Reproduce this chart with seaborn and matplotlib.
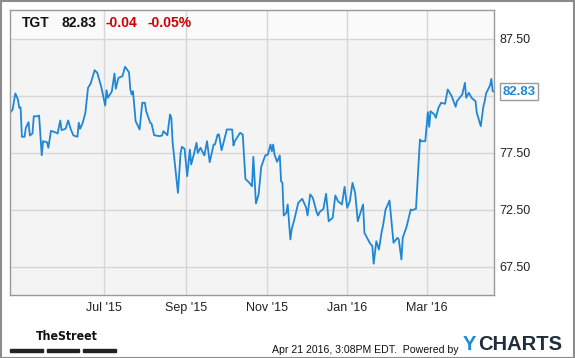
import pandas as pd
import matplotlib
matplotlib.use('Agg')
import matplotlib.pyplot as plt
import seaborn as sns
from matplotlib.patches import Rectangle

# TGT daily close (days counted from 2015-04-21)
day = [
    0, 2, 4, 6, 7, 8, 9, 11, 12, 14,
    15, 17, 18, 21, 22, 24, 25, 28, 29, 31,
    34, 36, 38, 39, 42, 44, 46, 48, 51, 52,
    53, 55, 57, 59, 61, 64, 66, 69, 72, 73,
    74, 77, 79, 80, 82, 85, 87, 90, 91, 92,
    93, 95, 98, 100, 102, 103, 106, 107, 109, 113,
    115, 116, 119, 121, 122, 123, 127, 129, 130, 132,
    134, 136, 137, 139, 141, 142, 144, 147, 149, 151,
    154, 155, 157, 158, 160, 164, 168, 169, 170, 174,
    176, 178, 181, 183, 184, 186, 188, 190, 193, 195,
    197, 198, 199, 200, 202, 204, 205, 206, 207, 209,
    210, 212, 213, 215, 218, 221, 224, 225, 227, 229,
    232, 233, 234, 237, 239, 241, 244, 246, 248, 251,
    253, 255, 257, 259, 261, 263, 265, 267, 268, 272,
    274, 275, 277, 279, 281, 282, 284, 285, 287, 290,
    293, 294, 296, 297, 300, 303, 304, 307, 310, 311,
    314, 316, 317, 318, 321, 322, 324, 326, 329, 331,
    334, 337, 338, 342, 344, 345, 347, 349, 352, 353,
    356, 358, 359, 360, 363, 364, 365, 366,
]
price = [
    80.98, 81.27, 82.68, 82.15, 81.42, 81.47, 78.88, 78.88, 79.67, 80.16,
    78.99, 79.17, 80.68, 80.68, 80.75, 77.26, 78.49, 78.40, 77.91, 79.40,
    79.28, 79.17, 80.31, 79.46, 79.58, 80.31, 79.52, 78.99, 78.88, 80.11,
    79.58, 80.11, 80.98, 83.18, 83.55, 84.72, 84.49, 83.26, 81.62, 82.96,
    82.30, 82.85, 84.43, 83.09, 84.05, 84.19, 85.02, 84.54, 83.03, 82.59,
    82.88, 80.25, 79.52, 81.86, 81.86, 81.12, 80.11, 80.04, 79.02, 78.93,
    78.99, 79.37, 79.02, 80.83, 80.54, 78.35, 73.96, 77.47, 78.00, 77.82,
    75.42, 77.76, 76.45, 77.32, 78.35, 77.47, 77.91, 77.24, 78.49, 76.65,
    78.20, 78.20, 79.08, 79.08, 77.70, 79.52, 79.52, 78.11, 78.49, 79.23,
    79.08, 75.19, 74.84, 74.54, 77.12, 73.03, 73.82, 76.25, 77.24, 77.32,
    78.20, 77.61, 78.20, 77.32, 76.68, 77.24, 74.98, 74.84, 71.97, 72.21,
    72.94, 69.87, 70.75, 71.62, 73.09, 73.44, 72.65, 71.97, 73.82, 73.53,
    72.21, 71.97, 72.26, 72.56, 73.88, 71.47, 71.77, 73.73, 73.23, 72.94,
    74.49, 72.65, 73.23, 74.84, 73.96, 71.47, 72.21, 72.94, 70.46, 69.58,
    69.28, 67.74, 69.72, 68.99, 70.51, 71.03, 72.50, 72.74, 73.29, 69.58,
    70.02, 69.87, 68.11, 70.02, 71.03, 72.50, 72.44, 72.56, 78.64, 78.49,
    78.49, 81.04, 79.75, 81.12, 80.83, 80.54, 81.42, 81.86, 81.77, 83.03,
    82.44, 81.51, 82.00, 82.59, 83.61, 82.30, 82.74, 82.30, 82.00, 80.98,
    79.81, 81.56, 82.00, 82.68, 83.38, 83.96, 82.88, 82.83,
]

x_ticks = ['2015-07-01', '2015-09-01', '2015-11-01', '2016-01-01', '2016-03-01']
x_labels = ["Jul '15", "Sep '15", "Nov '15", "Jan '16", "Mar '16"]
y_ticks = [67.5, 72.5, 77.5, 82.5, 87.5]
y_labels = ['67.50', '72.50', '77.50', '', '87.50']

ticker = 'TGT'
last = 82.83
change = '-0.04'
change_pct = '-0.05%'

start = pd.Timestamp('2015-04-21')
df = pd.DataFrame({'date': start + pd.to_timedelta(day, unit='D'), 'price': price})

sns.set_style('whitegrid')
plt.rcParams['font.family'] = ['Liberation Sans', 'DejaVu Sans']

blue = '#1f87d6'
fig = plt.figure(figsize=(5.75, 3.58), dpi=100)
fig.patch.set_facecolor('white')
ax = fig.add_axes([10 / 575, 63 / 358, 484 / 575, 285 / 358])
ax.set_facecolor('#f4f4f4')

sns.lineplot(data=df, x='date', y='price', ax=ax, estimator=None, sort=False,
             color=blue, linewidth=1.3)

ax.set_xlim(start, pd.Timestamp('2016-04-21'))
ax.set_ylim(65, 90)
ax.set_xticks(pd.to_datetime(x_ticks))
ax.set_xticklabels(x_labels)
ax.set_yticks(y_ticks)
ax.set_yticklabels(y_labels)
ax.yaxis.tick_right()
ax.tick_params(axis='both', length=0, labelsize=9, colors='#222222')
ax.tick_params(axis='y', pad=4)
ax.tick_params(axis='x', pad=5)
ax.set_xlabel('')
ax.set_ylabel('')
ax.grid(True, color='#d6d6d6', linewidth=1)
ax.set_axisbelow(True)
for s in ax.spines.values():
    s.set_color('#9a9a9a')
    s.set_linewidth(1)

# header band
ax.axhspan(87.5, 90, color='#fafafa', zorder=0.2, linewidth=0)

fig.text(22 / 575, 1 - 23 / 358, ticker, fontsize=10, fontweight='bold', va='center', color='#111111')
fig.text(61 / 575, 1 - 23 / 358, f'{last:.2f}', fontsize=10, fontweight='bold', va='center', color='#111111')
fig.text(106 / 575, 1 - 23 / 358, change, fontsize=10, fontweight='bold', va='center', color='#d10000')
fig.text(147 / 575, 1 - 23 / 358, change_pct, fontsize=10, fontweight='bold', va='center', color='#d10000')

# last price tag
ax.annotate(f'{last:.2f}', xy=(1, last), xycoords=('axes fraction', 'data'),
            xytext=(6, 0), textcoords='offset points', va='center', ha='left',
            fontsize=9.5, fontweight='bold', color=blue, annotation_clip=False,
            bbox=dict(boxstyle='square,pad=0.18', fc='white', ec='#999999', lw=1),
            zorder=5)

# footer
fig.text(36 / 575, 1 - 336 / 358, 'TheStreet', fontsize=8.8, fontweight='bold', va='center',
         family=['DejaVu Sans'], fontstretch='condensed', color='#111111')
for x0, x1 in [(10, 43), (47, 79), (83, 116)]:
    fig.patches.append(Rectangle((x0 / 575, 1 - 352 / 358), (x1 - x0) / 575, 3 / 358,
                                 transform=fig.transFigure, color='#222222'))
fig.text(459 / 575, 1 - 350 / 358, 'Apr 21 2016, 3:08PM EDT.  Powered by', fontsize=7.6,
         ha='right', va='center', color='#111111')
fig.text(463 / 575, 1 - 345 / 358, 'Y', fontsize=14.5, fontweight='bold', va='center', color='#1c8ad6')
fig.text(478 / 575, 1 - 345 / 358, 'CHARTS', fontsize=14.5, fontweight='bold', va='center', color='#1f2d3d')

fig.patches.append(Rectangle((0.5 / 575, 0.5 / 358), 573.5 / 575, 356.5 / 358, transform=fig.transFigure,
                             fill=False, edgecolor='#8c8c8c', linewidth=1.5))

fig.savefig('out.png', dpi=100)
